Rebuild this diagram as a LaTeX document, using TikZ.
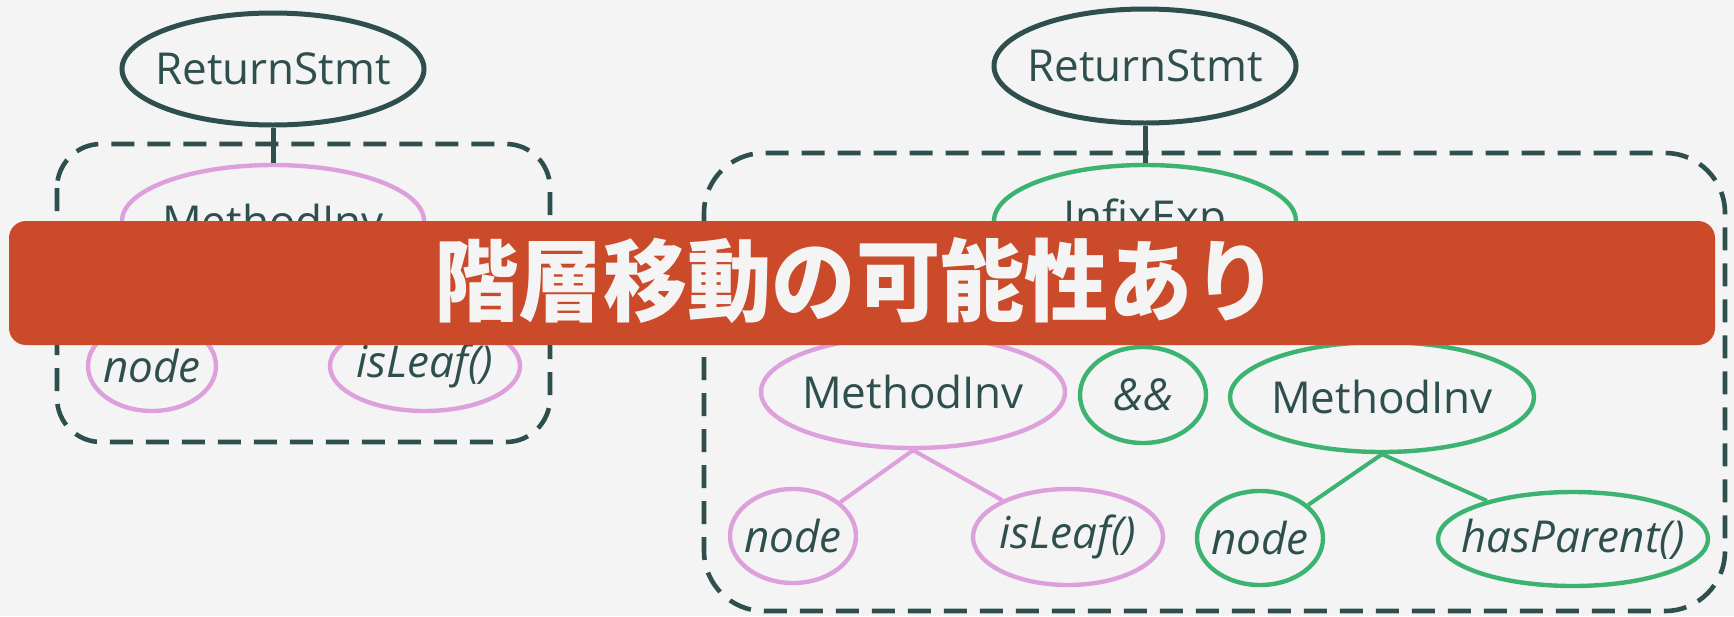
\documentclass[tikz,border=0pt]{standalone}
\usepackage{fontspec}
\setmainfont{Open Sans}
\newfontfamily\cjk{Noto Sans CJK JP}
\usetikzlibrary{shapes.geometric}
\definecolor{bgc}{HTML}{F4F4F4}
\definecolor{dk}{HTML}{2F4F4F}
\definecolor{pk}{HTML}{DDA0DD}
\definecolor{gr}{HTML}{3CB371}
\definecolor{ban}{HTML}{CA4A2A}
\newcommand{\tx}[1]{\makebox[0pt]{#1}}
\tikzset{
  el/.style={ellipse, fill=bgc, inner sep=0pt, text=dk, font=\fontsize{22}{26}\selectfont},
  dkel/.style={el, draw=dk, line width=2.5pt},
  pkel/.style={el, draw=pk, line width=2.2pt},
  grel/.style={el, draw=gr, line width=2.2pt},
  itx/.style={font=\fontsize{22}{26}\selectfont\itshape},
  dbox/.style={draw=dk, line width=2.3pt, dash pattern=on 11.5pt off 6.5pt},
  dkline/.style={draw=dk, line width=2.5pt},
  pkline/.style={draw=pk, line width=2pt},
  grline/.style={draw=gr, line width=2pt},
}
\begin{document}
\begin{tikzpicture}[x=0.5pt,y=-0.5pt]
\fill[bgc] (0,0) rectangle (1734,616);
\useasboundingbox (0,0) rectangle (1734,616);
% dashed boxes
\draw[dbox, rounded corners=22pt] (57,144) rectangle (550,442);
\draw[dbox, rounded corners=30pt] (704,153) rectangle (1725,611);
% left tree
\node[dkel, minimum width=151pt, minimum height=56pt] (Lret) at (273,69) {\tx{ReturnStmt}};
\node[pkel, minimum width=151pt, minimum height=56pt] (Lmi) at (273,221) {\tx{MethodInv}};
\node[pkel, itx, minimum width=64pt, minimum height=45pt] (Lnode) at (152,366) {\tx{node}};
\node[pkel, itx, minimum width=95pt, minimum height=45pt] (Lleaf) at (425,366) {\tx{isLeaf()}};
% right tree
\node[dkel, minimum width=151pt, minimum height=57pt] (Rret) at (1145,66) {\tx{ReturnStmt}};
\node[grel, minimum width=151pt, minimum height=56pt] (Rinf) at (1145,221) {\tx{InfixExp}};
\node[pkel, minimum width=152pt, minimum height=56pt] (Rmi1) at (913,392) {\tx{MethodInv}};
\node[grel, itx, minimum width=63pt, minimum height=48pt] (Rand) at (1143,395) {\tx{\&\&}};
\node[grel, minimum width=152pt, minimum height=55pt] (Rmi2) at (1382,397) {\tx{MethodInv}};
\node[pkel, itx, minimum width=63pt, minimum height=47pt] (Rnode1) at (793,536) {\tx{node}};
\node[pkel, itx, minimum width=95pt, minimum height=48pt] (Rleaf) at (1068,537) {\tx{isLeaf()}};
\node[grel, itx, minimum width=63pt, minimum height=47pt] (Rnode2) at (1260,538) {\tx{node}};
\node[grel, itx, minimum width=135pt, minimum height=47pt] (Rhp) at (1573,539) {\tx{hasParent()}};
% connectors
\path[dkline] (Lret.south) -- (Lmi.north);
\path[pkline] (Lmi.south) -- (Lnode);
\path[pkline] (Lmi.south) -- (Lleaf);
\path[dkline] (Rret.south) -- (Rinf.north);
\path[pkline] (Rmi1.south) -- (Rnode1);
\path[pkline] (Rmi1.south) -- (Rleaf);
\path[grline] (Rmi2.south) -- (Rnode2);
\path[grline] (Rmi2.south) -- (Rhp);
% banner
\node[fill=ban, rounded corners=8.5pt, inner sep=0pt, minimum width=853pt, minimum height=62pt] (ban) at (862,283) {};
\node[text=bgc, inner sep=0pt] (bantext) at (856,281) {\scalebox{0.98}[1.04]{\cjk\bfseries\fontsize{43}{50}\selectfont 階層移動の可能性あり}};
\end{tikzpicture}
\end{document}
